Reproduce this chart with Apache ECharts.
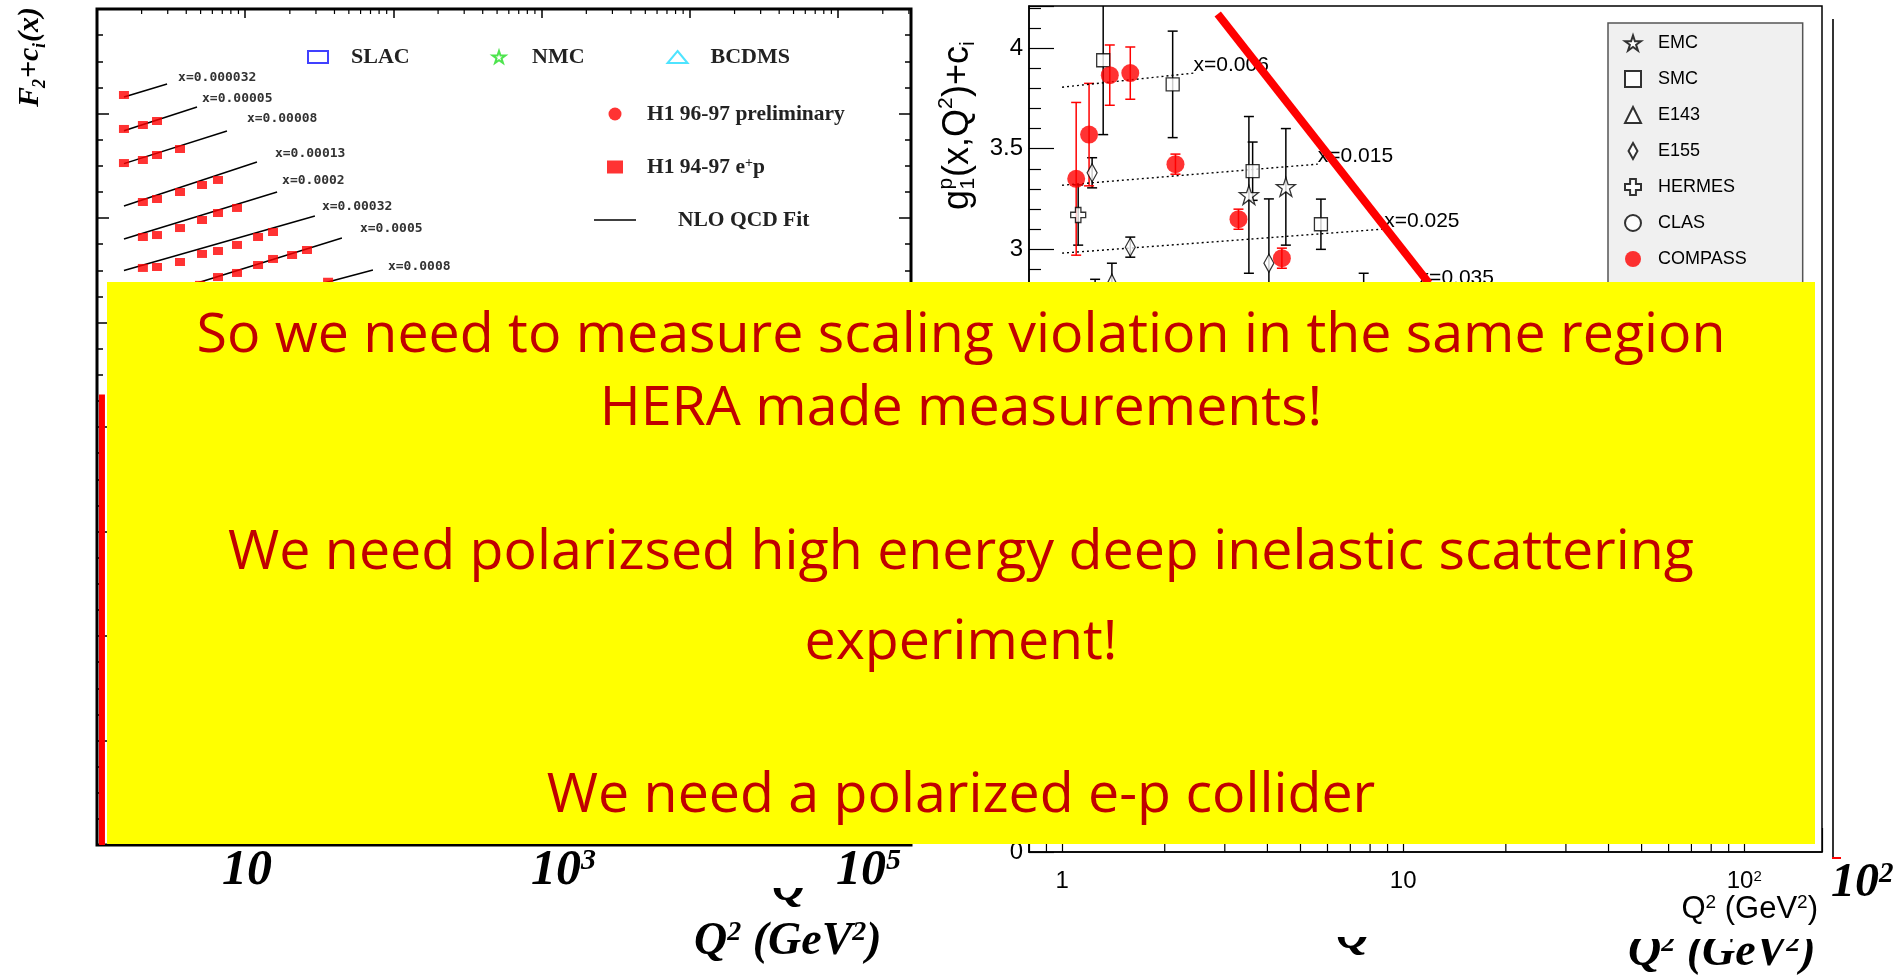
<!DOCTYPE html>
<html>
<head>
<meta charset="utf-8">
<script src="https://cdn.jsdelivr.net/npm/echarts@6/dist/echarts.min.js"></script>
<style>
  html, body { margin: 0; padding: 0; background: #ffffff; }
  #main { width: 1898px; height: 975px; }
</style>
</head>
<body>
<div id="main"></div>
<script>
// ---------------- Left panel: H1 F2 + c_i(x) versus Q^2 ----------------
const h1CurveLabels = ['x=0.000032', 'x=0.00005', 'x=0.00008', 'x=0.00013',
                       'x=0.0002', 'x=0.00032', 'x=0.0005', 'x=0.0008'];
// NLO QCD fit curves, [Q2, F2 + c_i]
const h1FitCurves = [
  [[1.52, 7.158], [2.97, 7.282]],
  [[1.52, 6.835], [4.73, 7.062]],
  [[1.52, 6.520], [7.53, 6.833]],
  [[1.52, 6.115], [12.0, 6.536]],
  [[1.52, 5.799], [16.4, 6.249]],
  [[1.52, 5.498], [29.5, 6.019]],
  [[1.52, 5.160], [44.9, 5.809]],
  [[2.50, 4.950], [72.7, 5.502]]
];
// H1 94-97 e+p measurements
const h1Points = [
  [1.52, 7.177],
  [1.52, 6.852], [2.04, 6.890], [2.54, 6.928],
  [1.52, 6.526], [2.04, 6.555], [2.54, 6.603], [3.63, 6.660],
  [2.04, 6.153], [2.54, 6.182], [3.63, 6.249], [5.11, 6.316], [6.55, 6.364],
  [2.04, 5.818], [2.54, 5.837], [3.63, 5.904], [5.11, 5.981], [6.55, 6.048], [8.80, 6.096],
  [2.04, 5.522], [2.54, 5.531], [3.63, 5.579], [5.11, 5.656], [6.55, 5.684], [8.80, 5.742], [12.2, 5.818], [15.4, 5.866],
  [4.95, 5.360], [6.55, 5.435], [8.80, 5.474], [12.2, 5.550], [15.4, 5.608], [20.7, 5.646], [26.1, 5.694],
  [36.2, 5.390]
];
const h1EdgeBar = [[1.08, 0], [1.08, 4.31]];

// ---------------- Right panel: g1^p(x,Q^2) + c_i versus Q^2 ----------------
// [Q2, value, error]
const emcData     = [[3.53, 3.27, 0.39], [4.53, 3.31, 0.29]];
const smcData     = [[1.32, 3.94, 0.37], [2.11, 3.82, 0.265], [3.62, 3.388, 0.145], [5.74, 3.124, 0.125], [7.66, 2.68, 0.20]];
const e143Data    = [[1.25, 2.76, 0.09], [1.40, 2.835, 0.095]];
const e155Data    = [[1.225, 3.38, 0.075], [1.585, 3.01, 0.05], [4.04, 2.93, 0.32]];
const hermesData  = [[1.115, 3.17, 0.15]];
const clasData    = [];
const compassData = [[1.10, 3.35, 0.38], [1.20, 3.57, 0.255], [1.38, 3.866, 0.15], [1.585, 3.876, 0.13],
                     [2.15, 3.423, 0.05], [3.29, 3.149, 0.05], [4.41, 2.955, 0.05]];
const g1FitLabels = ['x=0.006', 'x=0.015', 'x=0.025', 'x=0.035'];
const g1FitCurves = [
  [[1.0, 3.806], [2.43, 3.876]],
  [[1.0, 3.318], [5.62, 3.423]],
  [[1.0, 2.980], [8.80, 3.100]],
  [[1.0, 2.690], [11.1, 2.816]]
];
const redSlash = [[2.86, 4.17], [11.9, 2.83]];
const g1XDecades = [1, 10, 100];
const g1XTickText = ['1', '10', '10^2'];

// ---------------- Slide overlay text ----------------
const slideLines = [
  'So we need to measure scaling violation in the same region',
  'HERA made measurements!',
  'We need polarizsed high energy deep inelastic scattering',
  'experiment!',
  'We need a polarized e-p collider'
];
const slideAxisTicks = ['10', '10^3', '10^5', '10^2'];
const slideAxisTitle = 'Q^2 (GeV^2)';

// ---------------------------------------------------------------
const SANS = "'Liberation Sans', Arial, sans-serif";
const SERIF = "'Liberation Serif', 'Times New Roman', serif";
const toRich = s => s.replace(/\^(\d)/g, '{s|$1}');

// log minor tick positions (2..9 in every decade inside the range)
function logMinors(fromExp, toExp, lo, hi) {
  const out = [];
  for (let e = fromExp; e <= toExp; e++) {
    for (let m = 2; m <= 9; m++) {
      const v = m * Math.pow(10, e);
      if (v > lo && v < hi) out.push(v);
    }
  }
  return out;
}
const leftMinors = logMinors(0, 5, 1, 3.1e5);
const rightMinors = logMinors(-1, 2, 0.8, 169);

function tickSeries(xi, yi, values, edge, dir, len) {
  return {
    type: 'custom', xAxisIndex: xi, yAxisIndex: yi, silent: true, z: 1,
    data: values.map(v => [v, edge]),
    renderItem: (params, api) => {
      const p = api.coord([api.value(0), api.value(1)]);
      return { type: 'line', shape: { x1: p[0], y1: p[1], x2: p[0], y2: p[1] + dir * len },
               style: { stroke: '#000', lineWidth: 1.2 } };
    }
  };
}

function errorSeries(name, data, color) {
  return {
    type: 'custom', name: name + ' err', xAxisIndex: 1, yAxisIndex: 2, z: 2, clip: true, silent: true,
    data: data,
    renderItem: (params, api) => {
      const x = api.value(0), y = api.value(1), e = api.value(2);
      const top = api.coord([x, y + e]);
      const bot = api.coord([x, y - e]);
      const w = 5;
      const st = { stroke: color, lineWidth: 1.5 };
      return { type: 'group', children: [
        { type: 'line', shape: { x1: top[0], y1: top[1], x2: bot[0], y2: bot[1] }, style: st },
        { type: 'line', shape: { x1: top[0] - w, y1: top[1], x2: top[0] + w, y2: top[1] }, style: st },
        { type: 'line', shape: { x1: bot[0] - w, y1: bot[1], x2: bot[0] + w, y2: bot[1] }, style: st }
      ] };
    }
  };
}

const STAR = 'path://M12,0 L14.8,8.4 L23.6,8.4 L16.5,13.6 L19.2,22 L12,16.8 L4.8,22 L7.5,13.6 L0.4,8.4 L9.2,8.4 Z';
const CROSS = 'path://M3.5,0 H7.5 V3.5 H11 V7.5 H7.5 V11 H3.5 V7.5 H0 V3.5 H3.5 Z';
const DIAMOND = 'path://M5,0 L10,9 L5,18 L0,9 Z';
const SQUARE = 'path://M0,0 H10 V10 H0 Z';
const openStyle = { color: '#ffffff', borderColor: '#000000', borderWidth: 1.3 };

function markerSeries(name, data, symbol, size, style) {
  return {
    type: 'scatter', name: name, xAxisIndex: 1, yAxisIndex: 2, z: 3,
    symbol: symbol, symbolSize: size, symbolKeepAspect: false,
    itemStyle: style, data: data.map(d => [d[0], d[1]])
  };
}

const series = [];

// left panel: log minor ticks hanging from the top frame
series.push(tickSeries(0, 0, leftMinors, 8, 1, 5));

// NLO QCD fit curves with their x labels
const labelShift = [[11, -6], [5, -8], [20, -12], [18, -8], [5, -11], [7, -9], [18, -9], [15, -3]];
h1FitCurves.forEach((curve, i) => {
  series.push({
    type: 'line', name: 'NLO QCD Fit', xAxisIndex: 0, yAxisIndex: 0, z: 2,
    data: curve, symbol: 'none', showSymbol: false, clip: true,
    lineStyle: { color: '#000', width: 1.5 }, itemStyle: { color: '#000' },
    endLabel: {
      show: true, formatter: h1CurveLabels[i], distance: labelShift[i][0], offset: [0, labelShift[i][1]],
      fontFamily: "'DejaVu Sans Mono', monospace", fontWeight: 'bold', fontSize: 13, color: '#333'
    }
  });
});
series.push({
  type: 'scatter', name: 'H1 94-97 e+p', xAxisIndex: 0, yAxisIndex: 0, z: 4,
  symbol: 'path://M0,0 H16 V13 H0 Z', symbolSize: [10, 8], itemStyle: { color: '#ff0000' }, data: h1Points
});
series.push({
  type: 'scatter', name: 'H1 96-97 preliminary', xAxisIndex: 0, yAxisIndex: 0,
  symbol: 'circle', symbolSize: 10, itemStyle: { color: '#ff0000' }, data: []
});
series.push({ type: 'scatter', name: 'SLAC', xAxisIndex: 0, yAxisIndex: 0, symbol: 'rect', data: [],
  itemStyle: { color: 'rgba(0,0,0,0)', borderColor: '#1010ff', borderWidth: 2 } });
series.push({ type: 'scatter', name: 'NMC', xAxisIndex: 0, yAxisIndex: 0, symbol: STAR, data: [],
  itemStyle: { color: 'rgba(0,0,0,0)', borderColor: '#22dd22', borderWidth: 2 } });
series.push({ type: 'scatter', name: 'BCDMS', xAxisIndex: 0, yAxisIndex: 0, symbol: 'triangle', data: [],
  itemStyle: { color: 'rgba(0,0,0,0)', borderColor: '#22ddff', borderWidth: 2 } });
series.push({
  type: 'line', name: 'edge', xAxisIndex: 0, yAxisIndex: 0, z: 5, data: h1EdgeBar, symbol: 'none',
  lineStyle: { color: '#ff0000', width: 6 }
});

// right panel: minor log ticks on the Q2 axis
series.push(tickSeries(1, 2, rightMinors, 0, -1, 12));

// dotted fits
g1FitCurves.forEach((curve, i) => {
  series.push({
    type: 'line', name: g1FitLabels[i], xAxisIndex: 1, yAxisIndex: 2, z: 2,
    data: curve, symbol: 'none',
    lineStyle: { color: '#000', width: 1.4, type: [2, 3] },
    endLabel: { show: true, formatter: g1FitLabels[i], distance: 0, offset: [0, -8],
                fontFamily: SANS, fontSize: 21, color: '#000' }
  });
});

// error bars then markers
series.push(errorSeries('EMC', emcData, '#000'));
series.push(errorSeries('SMC', smcData, '#000'));
series.push(errorSeries('E143', e143Data, '#000'));
series.push(errorSeries('E155', e155Data, '#000'));
series.push(errorSeries('HERMES', hermesData, '#000'));
series.push(errorSeries('COMPASS', compassData, '#ff0000'));
series.push(markerSeries('EMC', emcData, STAR, 19, openStyle));
series.push(markerSeries('SMC', smcData, SQUARE, 13, openStyle));
series.push(markerSeries('E143', e143Data, 'triangle', 16, openStyle));
series.push(markerSeries('E155', e155Data, DIAMOND, [10, 18], openStyle));
series.push(markerSeries('HERMES', hermesData, CROSS, 15, openStyle));
series.push(markerSeries('CLAS', clasData, 'circle', 15, openStyle));
series.push(markerSeries('COMPASS', compassData, 'circle', 18, { color: '#ff0000' }));

series.push({
  type: 'line', name: 'slash', xAxisIndex: 1, yAxisIndex: 2, z: 6, data: redSlash, symbol: 'none',
  lineStyle: { color: '#ff0000', width: 8 }
});

// ---------------- graphic overlay ----------------
const boldItalicSerif = { fontFamily: SERIF, fontStyle: 'italic', fontWeight: 'bold', fill: '#000' };
function slideText(str, x, y, size, align) {
  return {
    type: 'text', x: x, y: y, z: 120,
    style: Object.assign({}, boldItalicSerif, {
      text: toRich(str), fontSize: size, align: align || 'left', verticalAlign: 'middle',
      rich: { s: { fontSize: Math.round(size * 0.6), verticalAlign: 'top', fontFamily: SERIF,
                   fontStyle: 'italic', fontWeight: 'bold', fill: '#000' } }
    })
  };
}
function whiteBox(x, y, w, h) {
  return { type: 'rect', z: 121, shape: { x: x, y: y, width: w, height: h }, style: { fill: '#ffffff' } };
}

const sansTitle = { fontFamily: SANS, fill: '#000', verticalAlign: 'middle' };
const g1Title = {
  type: 'group', x: 958, y: 210, rotation: Math.PI / 2, z: 60,
  children: [
    { type: 'text', x: 0, y: 0, style: Object.assign({ text: 'g', fontSize: 36 }, sansTitle) },
    { type: 'text', x: 20.5, y: -12, style: Object.assign({ text: 'p', fontSize: 21 }, sansTitle) },
    { type: 'text', x: 20.5, y: 10, style: Object.assign({ text: '1', fontSize: 21 }, sansTitle) },
    { type: 'text', x: 33, y: 0, style: Object.assign({ text: '(x,Q', fontSize: 36 }, sansTitle) },
    { type: 'text', x: 101, y: -12, style: Object.assign({ text: '2', fontSize: 21 }, sansTitle) },
    { type: 'text', x: 113, y: 0, style: Object.assign({ text: ')+c', fontSize: 36 }, sansTitle) },
    { type: 'text', x: 164, y: 10, style: Object.assign({ text: 'i', fontSize: 21 }, sansTitle) }
  ]
};
const serifTitle = Object.assign({ verticalAlign: 'middle' }, boldItalicSerif);
const f2Title = {
  type: 'group', x: 30, y: 107, rotation: Math.PI / 2, z: 60,
  children: [
    { type: 'text', x: 0, y: 0, style: Object.assign({ text: 'F', fontSize: 30 }, serifTitle) },
    { type: 'text', x: 19, y: 10, style: Object.assign({ text: '2', fontSize: 18 }, serifTitle) },
    { type: 'text', x: 29, y: 0, style: Object.assign({ text: '+c', fontSize: 30 }, serifTitle) },
    { type: 'text', x: 59, y: 10, style: Object.assign({ text: 'i', fontSize: 18 }, serifTitle) },
    { type: 'text', x: 65, y: 0, style: Object.assign({ text: '(x)', fontSize: 30 }, serifTitle) }
  ]
};

const slideLineY = [336, 409, 553, 643, 796];
const graphics = [
  f2Title, g1Title,
  // second frame line to the right of the g1 panel
  { type: 'line', z: 60, shape: { x1: 1833, y1: 19, x2: 1833, y2: 858 }, style: { stroke: '#333', lineWidth: 2 } },
  { type: 'line', z: 60, shape: { x1: 1832, y1: 858, x2: 1841, y2: 858 }, style: { stroke: '#ff0000', lineWidth: 2 } },
  // Q2 title of the g1 panel
  { type: 'text', x: 1818, y: 909, z: 60, style: {
      text: 'Q{s|2} (GeV{s|2})', fontFamily: SANS, fontSize: 31, fill: '#000', align: 'right', verticalAlign: 'middle',
      rich: { s: { fontSize: 19, verticalAlign: 'top', fontFamily: SANS, fill: '#000' } } } },
  // yellow statement box
  { type: 'rect', z: 100, shape: { x: 107, y: 282, width: 1708, height: 562 }, style: { fill: '#ffff00' } }
];
slideLines.forEach((line, i) => {
  graphics.push({
    type: 'text', x: 961, y: slideLineY[i], z: 110,
    style: { text: line, fontFamily: "'Open Sans', sans-serif", fontSize: 55.5, fill: '#c00000',
             align: 'center', verticalAlign: 'middle' }
  });
});
// big serif axis labels along the bottom
graphics.push(slideText(slideAxisTicks[0], 222, 871, 50));
graphics.push(slideText(slideAxisTicks[1], 531, 871, 50));
graphics.push(slideText(slideAxisTicks[2], 836, 871, 50));
graphics.push(slideText(slideAxisTicks[3], 1831, 884, 48));
graphics.push(slideText(slideAxisTitle, 694, 942, 46));
graphics.push(slideText(slideAxisTitle, 1628, 953, 46));
// partly hidden Q glyphs and the clipped title edge
graphics.push(slideText('Q', 772, 888, 46));
graphics.push(whiteBox(765, 850, 50, 38));
graphics.push(slideText('Q', 1336, 936, 46));
graphics.push(whiteBox(1328, 905, 55, 32));
graphics.push(whiteBox(1620, 927, 215, 12));

const option = {
  animation: false,
  backgroundColor: '#ffffff',
  grid: [
    { left: 97, top: 9, width: 814, height: 836, show: true, borderColor: '#000', borderWidth: 3,
      backgroundColor: 'rgba(0,0,0,0)' },
    { left: 1029, top: 6, width: 793, height: 846, show: true, borderColor: '#000', borderWidth: 1.5,
      backgroundColor: 'rgba(0,0,0,0)' }
  ],
  xAxis: [
    { gridIndex: 0, type: 'log', logBase: 10, min: 1, max: 3.1e5, position: 'top',
      axisLine: { show: false, onZero: false },
      axisTick: { inside: true, length: 9, lineStyle: { color: '#000', width: 1.5 } },
      axisLabel: { show: false }, splitLine: { show: false } },
    { gridIndex: 1, type: 'log', logBase: 10, min: 0.8, max: 169, position: 'bottom',
      axisLine: { show: true, onZero: false, lineStyle: { color: '#000', width: 1.5 } },
      axisTick: { inside: true, length: 24, lineStyle: { color: '#000', width: 1.2 } },
      axisLabel: {
        margin: 17, fontFamily: SANS, fontSize: 24, color: '#000',
        formatter: v => {
          const k = g1XDecades.findIndex(d => Math.abs(v - d) / d < 1e-6);
          return k < 0 ? '' : toRich(g1XTickText[k]);
        },
        rich: { s: { fontFamily: SANS, fontSize: 15, color: '#000', verticalAlign: 'top' } }
      },
      splitLine: { show: false } }
  ],
  yAxis: [
    { gridIndex: 0, type: 'value', min: 0, max: 8, interval: 1, position: 'left',
      axisLine: { show: false, onZero: false },
      axisTick: { inside: true, length: 12, lineStyle: { color: '#000', width: 1.5 } },
      minorTick: { show: true, splitNumber: 4, length: 6, lineStyle: { color: '#000', width: 1.5 } },
      axisLabel: { show: false }, splitLine: { show: false } },
    { gridIndex: 0, type: 'value', min: 0, max: 8, interval: 1, position: 'right',
      axisLine: { show: false, onZero: false },
      axisTick: { inside: true, length: 12, lineStyle: { color: '#000', width: 1.5 } },
      minorTick: { show: true, splitNumber: 4, length: 6, lineStyle: { color: '#000', width: 1.5 } },
      axisLabel: { show: false }, splitLine: { show: false } },
    { gridIndex: 1, type: 'value', min: 0, max: 4.21, interval: 0.5, position: 'left',
      axisLine: { show: true, onZero: false, lineStyle: { color: '#000', width: 1.5 } },
      axisTick: { inside: true, length: 25, lineStyle: { color: '#000', width: 1.2 } },
      minorTick: { show: true, splitNumber: 5, length: 12, lineStyle: { color: '#000', width: 1.2 } },
      axisLabel: {
        margin: 6, fontFamily: SANS, fontSize: 24, color: '#000',
        formatter: v => (Math.abs(v * 2 - Math.round(v * 2)) < 1e-6 ? String(Math.round(v * 2) / 2) : '')
      },
      splitLine: { show: false } }
  ],
  legend: [
    { data: ['SLAC', 'NMC', 'BCDMS'], orient: 'horizontal', left: 307, top: 46, padding: 0,
      itemWidth: 20, itemHeight: 12, itemGap: 82, selectedMode: false,
      textStyle: { fontFamily: SERIF, fontWeight: 'bold', fontSize: 22, color: '#222', width: 60,
                   padding: [0, 0, 0, 18] } },
    { data: [
        { name: 'H1 96-97 preliminary' },
        { name: 'H1 94-97 e+p' },
        { name: 'NLO QCD Fit', icon: 'path://M0,0 H42 V1.5 H0 Z', itemStyle: { color: '#000' },
          textStyle: { padding: [0, 0, 0, 37] } }
      ],
      orient: 'vertical', left: 594, top: 103, padding: 0, itemWidth: 42, itemHeight: 13, itemGap: 31,
      selectedMode: false,
      formatter: n => (n === 'H1 94-97 e+p' ? 'H1 94-97 e{s|+}p' : n),
      textStyle: { fontFamily: SERIF, fontWeight: 'bold', fontSize: 21.5, color: '#222', padding: [0, 0, 0, 6],
                   rich: { s: { fontFamily: SERIF, fontWeight: 'bold', fontSize: 14, color: '#222',
                                verticalAlign: 'top' } } } },
    { data: ['EMC', 'SMC', 'E143', 'E155', 'HERMES', 'CLAS', 'COMPASS'],
      orient: 'vertical', left: 1608, top: 23, itemWidth: 16, itemHeight: 16, itemGap: 18,
      padding: [11, 56, 40, 16], backgroundColor: '#f0f0f0', borderColor: '#555', borderWidth: 1.5,
      borderRadius: 0, selectedMode: false,
      textStyle: { fontFamily: SANS, fontSize: 18, lineHeight: 16, color: '#000', padding: [0, 0, 0, 12] } }
  ],
  graphic: graphics,
  series: series
};

const chart = echarts.init(document.getElementById('main'), null, { renderer: 'canvas', width: 1898, height: 975 });
chart.setOption(option);
</script>
</body>
</html>
